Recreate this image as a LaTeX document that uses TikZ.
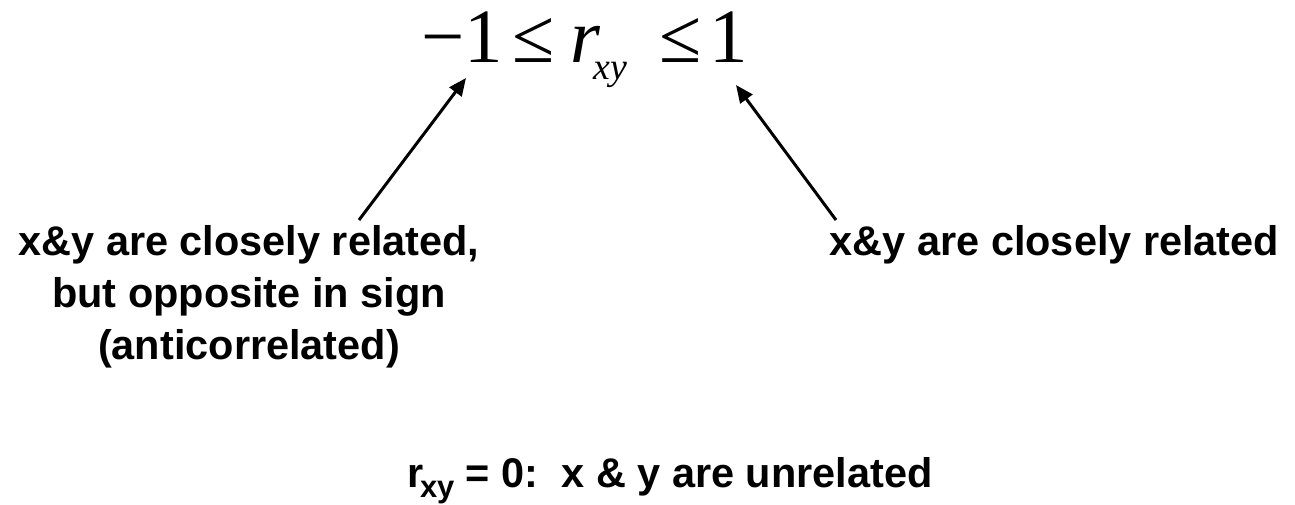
\documentclass[tikz,border=0pt]{standalone}
\usepackage{fontspec}
\setsansfont{Liberation Sans}
\newfontfamily\eqfont{Liberation Serif}
\usetikzlibrary{arrows.meta}

\begin{document}
\begin{tikzpicture}[x=0.02cm,y=-0.02cm,
  note/.style={font=\sffamily\bfseries\fontsize{23.6}{29.5}\selectfont, align=center, inner sep=0pt, anchor=base},
  eq/.style={font=\eqfont\fontsize{43.7}{44}\selectfont, inner sep=0pt, anchor=base},
  pointer/.style={-{Triangle[length=10pt,width=8.5pt]}, line width=1.7pt}]
\useasboundingbox (0,0) rectangle (1295,504);
% the inequality
\node[eq] (minusone) at (462,62) {−1};
\node[eq] (lowle) at (534,62) {≤};
\node[eq, anchor=base west] (rxy) at (570,62) {\textit{r}\kern-4pt\raisebox{-10.2pt}{\fontsize{21.5}{22}\selectfont\itshape xy}};
\node[eq] (highle) at (681,62) {≤};
\node[eq] (plusone) at (729,62) {1};
% what the two ends mean (base is the last line)
\node[note] (anti) at (249,359) {x\&y are closely related,\\but opposite in sign\\(anticorrelated)};
\node[note] (corr) at (1054.5,255) {x\&y are closely related};
\coordinate (lotail) at (359,220);
\coordinate (lotip) at (466,78);
\coordinate (hitail) at (836,220);
\coordinate (hitip) at (736,85);
\draw[pointer] (lotail) -- (lotip);
\draw[pointer] (hitail) -- (hitip);
% zero
\node[note] (zero) at (670,487) {r\kern-2pt\raisebox{-5.7pt}{\fontsize{17.6}{18}\selectfont xy} = 0:\ \ x \& y are unrelated};
\end{tikzpicture}
\end{document}
